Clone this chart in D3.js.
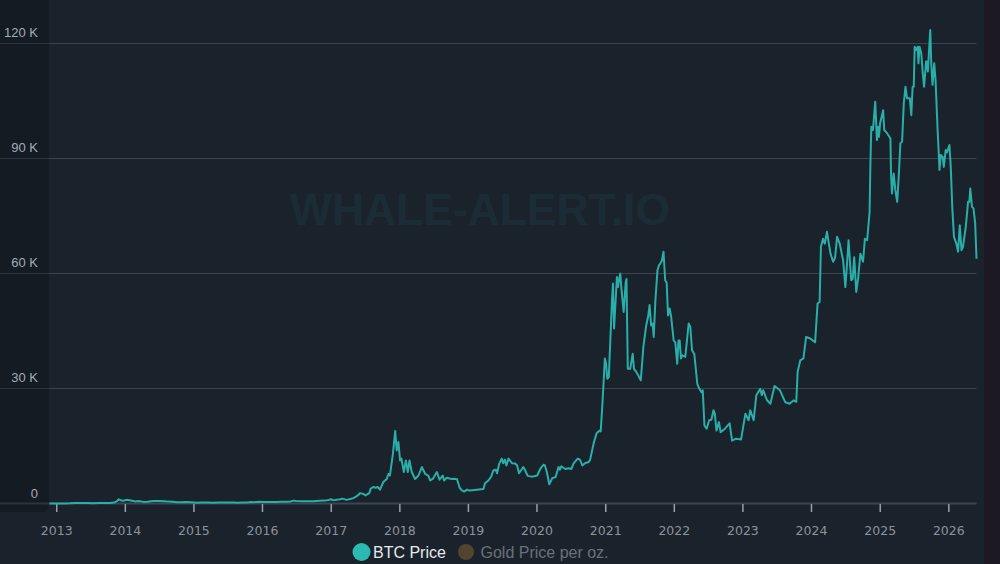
<!DOCTYPE html>
<html>
<head>
<meta charset="utf-8">
<script src="https://cdn.jsdelivr.net/npm/d3@7"></script>
<style>
  html, body { margin: 0; padding: 0; background: #1a232c; overflow: hidden; }
  svg { display: block; }
</style>
</head>
<body>
<svg id="chart" width="1000" height="564"></svg>
<script>
// BTC price history (USD), one array per year
const btc2012 = [['2012-11-26', 12], ['2012-12-15', 13]];
const btc2013 = [['2013-01-15', 15], ['2013-02-15', 27], ['2013-03-15', 47], ['2013-04-08', 160], ['2013-04-20', 120],
  ['2013-05-15', 118], ['2013-06-15', 100], ['2013-07-15', 95], ['2013-08-15', 110], ['2013-09-15', 128],
  ['2013-10-15', 150], ['2013-11-05', 250], ['2013-11-20', 600], ['2013-11-30', 1100], ['2013-12-15', 750], ['2013-12-28', 730]];
const btc2014 = [['2014-01-08', 950], ['2014-01-25', 850], ['2014-02-10', 700], ['2014-02-25', 550], ['2014-03-15', 630],
  ['2014-04-10', 420], ['2014-05-01', 450], ['2014-06-01', 640], ['2014-07-01', 640], ['2014-08-01', 590],
  ['2014-08-20', 490], ['2014-09-15', 470], ['2014-10-05', 330], ['2014-11-01', 330], ['2014-11-20', 380], ['2014-12-15', 350]];
const btc2015 = [['2015-01-05', 280], ['2015-01-15', 200], ['2015-02-15', 240], ['2015-03-15', 280], ['2015-04-15', 225],
  ['2015-05-15', 240], ['2015-06-15', 240], ['2015-07-10', 290], ['2015-08-01', 280], ['2015-08-25', 220],
  ['2015-09-15', 230], ['2015-10-15', 260], ['2015-11-05', 400], ['2015-11-15', 330], ['2015-12-15', 455]];
const btc2016 = [['2016-01-15', 380], ['2016-02-15', 400], ['2016-03-15', 415], ['2016-04-15', 430], ['2016-05-15', 455],
  ['2016-06-01', 530], ['2016-06-17', 750], ['2016-07-01', 670], ['2016-08-01', 600], ['2016-09-01', 575],
  ['2016-10-01', 615], ['2016-11-01', 730], ['2016-12-01', 750], ['2016-12-20', 900]];
const btc2017 = [['2017-01-04', 1100], ['2017-01-15', 820], ['2017-02-01', 1000], ['2017-02-20', 1100], ['2017-03-05', 1270],
  ['2017-03-25', 950], ['2017-04-15', 1180], ['2017-05-01', 1400], ['2017-05-15', 1800], ['2017-05-30', 2300],
  ['2017-06-05', 2700], ['2017-06-25', 2500], ['2017-07-05', 2100], ['2017-07-25', 2700], ['2017-08-01', 3800],
  ['2017-08-15', 4300], ['2017-08-28', 4100], ['2017-09-08', 4300], ['2017-09-20', 3600], ['2017-10-08', 5600],
  ['2017-10-26', 6400], ['2017-11-04', 7700], ['2017-11-12', 7300], ['2017-11-28', 13000], ['2017-12-10', 18900],
  ['2017-12-18', 13800], ['2017-12-27', 16000]];
const btc2018 = [['2018-01-05', 11200], ['2018-01-12', 11700], ['2018-01-25', 8200], ['2018-02-05', 11200], ['2018-02-15', 8200],
  ['2018-02-24', 11200], ['2018-03-08', 8200], ['2018-03-26', 6400], ['2018-04-13', 7300], ['2018-05-01', 9500],
  ['2018-05-19', 7700], ['2018-06-05', 7200], ['2018-06-14', 6000], ['2018-06-28', 6400], ['2018-07-20', 8200],
  ['2018-08-03', 6200], ['2018-08-20', 7300], ['2018-08-27', 6000], ['2018-09-11', 6700], ['2018-09-25', 6500],
  ['2018-10-08', 6400], ['2018-10-22', 6450], ['2018-11-04', 6300], ['2018-11-18', 4100], ['2018-11-30', 3400],
  ['2018-12-12', 3100], ['2018-12-27', 3600]];
const btc2019 = [['2019-01-10', 3400], ['2019-02-17', 3600], ['2019-03-25', 3800], ['2019-04-02', 5300], ['2019-04-20', 6000],
  ['2019-05-05', 7000], ['2019-05-16', 8600], ['2019-05-30', 8800], ['2019-06-05', 7900], ['2019-06-17', 10400],
  ['2019-06-30', 11700], ['2019-07-08', 10500], ['2019-07-17', 11400], ['2019-07-25', 9900], ['2019-08-05', 11700],
  ['2019-08-23', 10500], ['2019-09-09', 10400], ['2019-09-20', 9900], ['2019-09-30', 7900], ['2019-10-10', 8600],
  ['2019-10-23', 9500], ['2019-11-02', 8600], ['2019-11-15', 7200], ['2019-12-05', 7000], ['2019-12-20', 7100]];
const btc2020 = [['2020-01-05', 7300], ['2020-01-21', 9000], ['2020-02-07', 10100], ['2020-02-15', 9900], ['2020-02-25', 8200],
  ['2020-03-09', 5000], ['2020-03-25', 6600], ['2020-04-12', 6900], ['2020-04-27', 9500], ['2020-05-05', 8800],
  ['2020-05-12', 9700], ['2020-06-02', 9000], ['2020-06-20', 9200], ['2020-07-05', 9000], ['2020-07-16', 10400],
  ['2020-08-07', 11700], ['2020-08-20', 11400], ['2020-09-01', 9900], ['2020-09-15', 10500], ['2020-10-04', 10800],
  ['2020-10-12', 11300], ['2020-10-31', 15600], ['2020-11-15', 18200], ['2020-11-22', 18600], ['2020-12-03', 19000],
  ['2020-12-08', 18800], ['2020-12-17', 26000], ['2020-12-30', 37800]];
const btc2021 = [['2021-01-05', 36500], ['2021-01-12', 32500], ['2021-01-20', 33000], ['2021-01-28', 42500], ['2021-02-06', 53000],
  ['2021-02-11', 57300], ['2021-02-17', 45600], ['2021-03-04', 59000], ['2021-03-10', 56400], ['2021-03-16', 58600],
  ['2021-03-22', 59900], ['2021-03-28', 56000], ['2021-04-09', 49900], ['2021-04-20', 57700], ['2021-04-24', 58500],
  ['2021-05-01', 35100], ['2021-05-14', 35100], ['2021-05-27', 39000], ['2021-06-03', 35100], ['2021-06-15', 34300],
  ['2021-07-09', 32100], ['2021-07-23', 40800], ['2021-08-07', 46400], ['2021-08-18', 49000], ['2021-08-25', 51700],
  ['2021-09-02', 46400], ['2021-09-10', 46900], ['2021-09-16', 43400], ['2021-09-25', 53000], ['2021-10-06', 60800],
  ['2021-10-14', 62100], ['2021-10-21', 62500], ['2021-10-30', 63400], ['2021-11-07', 65600], ['2021-11-16', 58200],
  ['2021-11-24', 57500], ['2021-12-01', 49000], ['2021-12-10', 50800], ['2021-12-18', 48600], ['2021-12-31', 42500]];
const btc2022 = [['2022-01-09', 42000], ['2022-01-19', 36400], ['2022-01-26', 42500], ['2022-02-01', 42500], ['2022-02-08', 37800],
  ['2022-02-15', 38600], ['2022-03-03', 38200], ['2022-03-21', 46900], ['2022-03-30', 46000], ['2022-04-08', 39900],
  ['2022-04-20', 39000], ['2022-05-06', 31200], ['2022-05-13', 30300], ['2022-05-28', 29000], ['2022-06-04', 29500],
  ['2022-06-13', 20300], ['2022-06-25', 19500], ['2022-07-08', 21700], ['2022-07-20', 21800], ['2022-07-31', 24300],
  ['2022-08-07', 23500], ['2022-08-16', 19000], ['2022-08-29', 21200], ['2022-09-07', 18600], ['2022-09-30', 19500],
  ['2022-10-25', 20900], ['2022-11-07', 16400], ['2022-11-28', 16900], ['2022-12-25', 16700]];
const btc2023 = [['2023-01-17', 23400], ['2023-02-03', 21700], ['2023-02-12', 24300], ['2023-03-02', 21700], ['2023-03-16', 28200],
  ['2023-04-06', 29900], ['2023-04-14', 28200], ['2023-04-22', 29500], ['2023-05-12', 26900], ['2023-05-30', 26000],
  ['2023-06-21', 30600], ['2023-07-20', 29500], ['2023-08-17', 26400], ['2023-09-09', 26000], ['2023-10-01', 26900],
  ['2023-10-15', 26500], ['2023-10-22', 34300], ['2023-11-05', 37300], ['2023-11-22', 37800], ['2023-12-06', 43400],
  ['2023-12-28', 43000]];
const btc2024 = [['2024-01-23', 42000], ['2024-02-05', 52100], ['2024-02-16', 52500], ['2024-02-23', 66900], ['2024-03-05', 69000],
  ['2024-03-15', 67700], ['2024-03-26', 70800], ['2024-04-14', 65100], ['2024-04-28', 63000], ['2024-05-08', 64000],
  ['2024-05-19', 69500], ['2024-06-02', 67700], ['2024-06-20', 63400], ['2024-07-02', 56400], ['2024-07-11', 62500],
  ['2024-07-19', 68600], ['2024-08-02', 58200], ['2024-08-10', 58500], ['2024-08-18', 64200], ['2024-08-29', 55100],
  ['2024-09-08', 58600], ['2024-09-20', 65100], ['2024-10-04', 63000], ['2024-10-14', 69000], ['2024-10-26', 68600],
  ['2024-11-08', 76000], ['2024-11-12', 87700], ['2024-11-17', 98200], ['2024-11-26', 97300], ['2024-12-08', 104700],
  ['2024-12-17', 94700], ['2024-12-24', 98200], ['2024-12-28', 95600]];
const btc2025 = [['2025-01-03', 99100], ['2025-01-19', 102500], ['2025-01-25', 97300], ['2025-02-09', 96500], ['2025-02-27', 95100],
  ['2025-03-02', 86000], ['2025-03-07', 80800], ['2025-03-16', 86000], ['2025-03-25', 81700], ['2025-04-04', 78600],
  ['2025-04-12', 85100], ['2025-04-21', 93900], ['2025-04-30', 94300], ['2025-05-09', 104300], ['2025-05-18', 108600],
  ['2025-05-26', 105600], ['2025-06-10', 105600], ['2025-06-18', 101200], ['2025-06-25', 108600], ['2025-07-01', 108600],
  ['2025-07-06', 119000], ['2025-07-15', 118200], ['2025-07-22', 119000], ['2025-07-26', 114700], ['2025-08-01', 119000],
  ['2025-08-10', 117300], ['2025-08-18', 112100], ['2025-08-25', 108600], ['2025-09-05', 115200], ['2025-09-10', 115200],
  ['2025-09-14', 112600], ['2025-09-27', 123400], ['2025-10-02', 114700], ['2025-10-09', 109100], ['2025-10-18', 114700],
  ['2025-10-25', 110400], ['2025-11-05', 97300], ['2025-11-12', 90300], ['2025-11-15', 86900], ['2025-11-22', 90800],
  ['2025-12-02', 90300], ['2025-12-08', 87700], ['2025-12-18', 92100], ['2025-12-25', 91500]];
const btc2026 = [['2026-01-07', 93400], ['2026-01-14', 87700], ['2026-01-22', 77300], ['2026-01-31', 69500], ['2026-02-13', 67700],
  ['2026-02-22', 65600], ['2026-03-03', 72500], ['2026-03-12', 66000], ['2026-03-20', 66900], ['2026-04-04', 72100],
  ['2026-04-16', 78600], ['2026-04-23', 78600], ['2026-04-28', 82100], ['2026-05-07', 77300], ['2026-05-15', 76900],
  ['2026-05-24', 73000], ['2026-05-31', 63800]];

const yTicks = [0, 30000, 60000, 90000, 120000];
const legendNames = ['BTC Price', 'Gold Price per oz.'];
const legendOn = [true, false];
const watermark = 'WHALE-ALERT.IO';

// ── Setup ────────────────────────────────────────────────────────────────────
const W = 1000, H = 564;
const parse = d3.timeParse('%Y-%m-%d');
const series = [].concat(btc2012, btc2013, btc2014, btc2015, btc2016, btc2017, btc2018,
  btc2019, btc2020, btc2021, btc2022, btc2023, btc2024, btc2025, btc2026)
  .map(([d, v]) => ({ date: parse(d), value: v }));

const plotRight = 976.5;
const x = d3.scaleTime().domain(d3.extent(series, d => d.date)).range([49.5, plotRight]);
const y = d3.scaleLinear().domain([0, 120000]).range([503.5, 43]);

const svg = d3.select('#chart');

// backgrounds
svg.append('rect').attr('width', W).attr('height', H).attr('fill', '#1a232c');
svg.append('rect').attr('x', 984).attr('width', W - 984).attr('height', H).attr('fill', '#1c1924');

// grid lines
svg.append('g').selectAll('line')
  .data(yTicks.filter(v => v > 0))
  .join('line')
  .attr('x1', 0).attr('x2', plotRight)
  .attr('y1', d => Math.round(y(d)) + 0.5).attr('y2', d => Math.round(y(d)) + 0.5)
  .attr('stroke', '#3a454f').attr('stroke-width', 1.2);

// baseline
svg.append('line')
  .attr('x1', 0).attr('x2', plotRight)
  .attr('y1', y(0)).attr('y2', y(0))
  .attr('stroke', '#3a4650').attr('stroke-width', 2);

// left y-axis panel (rounded bottom-right corner)
const pw = 49, ph = 512, r = 8;
svg.append('path')
  .attr('d', `M0,0 H${pw} V${ph - r} Q${pw},${ph} ${pw - r},${ph} H0 Z`)
  .attr('fill', 'rgba(6,8,12,0.27)');

// watermark
svg.append('text')
  .attr('x', 480).attr('y', 225)
  .attr('text-anchor', 'middle')
  .attr('font-family', 'Liberation Sans, Arial, sans-serif')
  .attr('font-weight', 'bold')
  .attr('font-size', 44)
  .attr('textLength', 380).attr('lengthAdjust', 'spacingAndGlyphs')
  .attr('fill', '#1c2c37')
  .text(watermark);

// y labels
svg.append('g').selectAll('text')
  .data(yTicks)
  .join('text')
  .attr('x', 38)
  .attr('y', d => y(d) - 6)
  .attr('text-anchor', 'end')
  .attr('font-family', 'Liberation Sans, Arial, sans-serif')
  .attr('font-size', 13)
  .attr('fill', '#a3abb3')
  .text(d => d === 0 ? '0' : `${d / 1000} K`);

// x axis
const xAxis = svg.append('g')
  .attr('transform', `translate(0,${y(0) + 0.5})`)
  .call(d3.axisBottom(x).ticks(d3.timeYear.every(1)).tickFormat(d3.timeFormat('%Y')).tickSize(8).tickSizeOuter(0));
xAxis.select('.domain').remove();
xAxis.selectAll('.tick line').attr('stroke', '#98a0a8').attr('stroke-width', 1.5);
xAxis.selectAll('.tick text')
  .attr('y', 31).attr('dy', null)
  .attr('font-family', 'DejaVu Sans, Verdana, sans-serif')
  .attr('font-size', 12.5)
  .attr('fill', '#8a939b');

// BTC line
const line = d3.line().x(d => x(d.date)).y(d => y(d.value));
svg.append('path')
  .datum(series)
  .attr('d', line)
  .attr('fill', 'none')
  .attr('stroke', '#2aaea9')
  .attr('stroke-width', 2)
  .attr('stroke-linejoin', 'round');

// legend
const lg = svg.append('g');
const legendX = [361.5, 466];
const legendCol = ['#2cb9b1', '#51452f'];
legendNames.forEach((name, i) => {
  lg.append('circle').attr('cx', legendX[i]).attr('cy', 552).attr('r', i === 0 ? 9 : 8).attr('fill', legendCol[i]);
  lg.append('text')
    .attr('x', legendX[i] + (i === 0 ? 11.5 : 14.5)).attr('y', 557.5)
    .attr('font-family', 'Liberation Sans, Arial, sans-serif')
    .attr('font-size', 16)
    .attr('fill', legendOn[i] ? '#e6e9ec' : '#6b7178')
    .text(name);
});
</script>
</body>
</html>
